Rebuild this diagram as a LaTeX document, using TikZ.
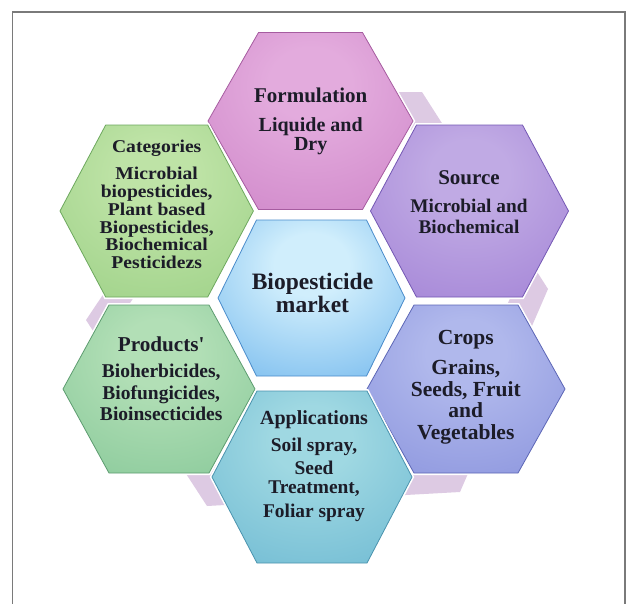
\documentclass[tikz,border=0pt]{standalone}
\usepackage{fontspec}
\setmainfont{Liberation Serif}
\definecolor{txtcol}{HTML}{1C1C28}
\definecolor{bordercol}{HTML}{7A7A7A}
\definecolor{bglav}{HTML}{DDCAE3}
\definecolor{formIn}{HTML}{E3ABDD}\definecolor{formOut}{HTML}{C676C0}\definecolor{formEdge}{HTML}{A65CA0}
\definecolor{catIn}{HTML}{BEE3A6}\definecolor{catOut}{HTML}{8FC97A}\definecolor{catEdge}{HTML}{6DA85E}
\definecolor{srcIn}{HTML}{C0AAE4}\definecolor{srcOut}{HTML}{9672D0}\definecolor{srcEdge}{HTML}{7458B4}
\definecolor{ctrIn}{HTML}{D0EEFC}\definecolor{ctrOut}{HTML}{4FA3E7}\definecolor{ctrEdge}{HTML}{4A8CCB}
\definecolor{prdIn}{HTML}{B2DFB6}\definecolor{prdOut}{HTML}{76BF8D}\definecolor{prdEdge}{HTML}{5D9C70}
\definecolor{crpIn}{HTML}{B0B8EC}\definecolor{crpOut}{HTML}{7B85D7}\definecolor{crpEdge}{HTML}{5C66B6}
\definecolor{appIn}{HTML}{9FD8E2}\definecolor{appOut}{HTML}{5AADCC}\definecolor{appEdge}{HTML}{4A93AE}
\colorlet{hin}{white}\colorlet{hout}{gray}
\pgfdeclareradialshading[hin,hout]{hexshade}{\pgfpoint{0bp}{12bp}}{color(0bp)=(hin); color(10bp)=(hin); color(56bp)=(hout); color(95bp)=(hout)}
% #1 cx, #2 cy, #3 half width, #4 half height, #5 half top edge, #6 inner, #7 outer, #8 edge
\newcommand\hexdraw[8]{%
  \begin{scope}
    \colorlet{hin}{#6}\colorlet{hout}{#7}
    \draw[white, line width=4pt, line join=miter]
      ({#1-#3},{#2}) -- ({#1-#5},{#2-#4}) -- ({#1+#5},{#2-#4}) -- ({#1+#3},{#2})
      -- ({#1+#5},{#2+#4}) -- ({#1-#5},{#2+#4}) -- cycle;
    \shadedraw[shading=hexshade, draw=#8, line width=0.8pt, line join=miter]
      ({#1-#3},{#2}) -- ({#1-#5},{#2-#4}) -- ({#1+#5},{#2-#4}) -- ({#1+#3},{#2})
      -- ({#1+#5},{#2+#4}) -- ({#1-#5},{#2+#4}) -- cycle;
  \end{scope}}
\newcommand\hexfont[2]{\fontsize{#1}{#2}\selectfont\bfseries}
\newcommand\headfont[1]{\fontsize{#1}{#1}\selectfont}
\tikzset{
  hextext/.style={align=center, inner sep=0pt, text=txtcol, anchor=north},
  frameline/.style={draw=bordercol, line width=1.3pt}
}
\begin{document}
\lineskiplimit=-100pt
\begin{tikzpicture}[x=1pt, y=-1pt]
\useasboundingbox (0,0) rectangle (627,603);
\fill[white] (0,0) rectangle (627,603);
\draw[frameline] (12.5,608) -- (12.5,12) -- (625,12) -- (625,608);
% background lavender hexagonal band
\fill[bglav, even odd rule]
  (239,92) -- (422,92) -- (548,289) -- (460,492) -- (207,506) -- (86,320) -- cycle
  (250.7,123.1) -- (406.3,123.1) -- (513.4,290.5) -- (438.6,463) -- (223.5,475) -- (120.7,316.9) -- cycle;
% hexagons
\hexdraw{310.5}{121}{102.5}{88.5}{52}{formIn}{formOut}{formEdge}
\hexdraw{156.7}{211}{96.7}{86}{51}{catIn}{catOut}{catEdge}
\hexdraw{469.5}{211}{99}{86}{53}{srcIn}{srcOut}{srcEdge}
\hexdraw{311.5}{298}{93.5}{78}{55}{ctrIn}{ctrOut}{ctrEdge}
\hexdraw{159}{389}{96}{84}{50}{prdIn}{prdOut}{prdEdge}
\hexdraw{466}{389}{99}{84}{52}{crpIn}{crpOut}{crpEdge}
\hexdraw{312}{477}{100}{86}{55}{appIn}{appOut}{appEdge}
% texts
\node[hextext, font=\hexfont{20}{18.8}] (formulation) at (310.7,87.8)
  {{\headfont{21}Formulation}\\[10.5pt]Liquide and\\Dry};
\node[hextext, font=\hexfont{18}{17.8}\addfontfeature{FakeStretch=1.09}] (categories) at (156.7,139.5)
  {Categories\\[9.8pt]Microbial\\biopesticides,\\Plant based\\Biopesticides,\\Biochemical\\Pesticidezs};
\node[hextext, font=\hexfont{19.3}{20.6}] (source) at (469,170.8)
  {{\headfont{21}Source}\\[7.1pt]Microbial and\\Biochemical};
\node[hextext, font=\hexfont{23.5}{22.4}] (market) at (312.5,273.4)
  {Biopesticide\\market};
\node[hextext, font=\hexfont{19.5}{21.4}] (products) at (161.2,336.6)
  {{\headfont{21.2}Products\textquotesingle}\\[5pt]Bioherbicides,\\Biofungicides,\\Bioinsecticides};
\node[hextext, font=\hexfont{21.5}{21.4}] (crops) at (465.8,330.4)
  {Crops\\[8.6pt]Grains,\\Seeds, Fruit\\and\\Vegetables};
\node[hextext, font=\hexfont{19.4}{19}] (applications) at (314,410.5)
  {{\headfont{20}Applications}\\[8pt]Soil spray,\\[4.3pt]Seed\\Treatment,\\[4.4pt]Foliar spray};
\end{tikzpicture}
\end{document}
